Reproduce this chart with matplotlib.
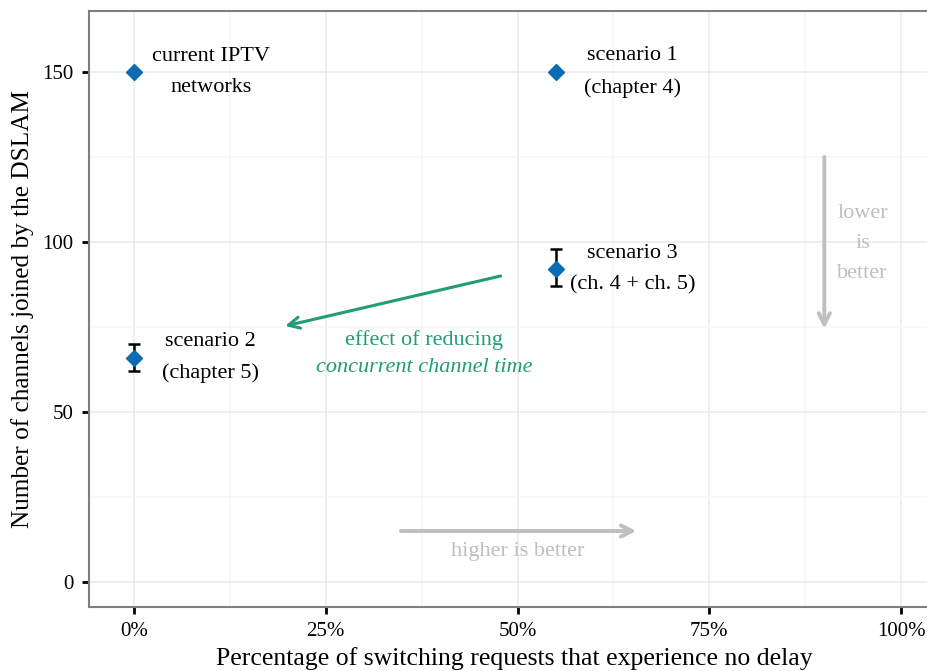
import matplotlib
matplotlib.use("Agg")
import matplotlib.pyplot as plt
from matplotlib.ticker import FixedLocator

plt.rcParams['font.family'] = ['Liberation Serif', 'DejaVu Serif']

# data
x_vals = [0.0, 0.55, 0.55, 0.0]
y_vals = [150, 150, 92, 66]
err_x = [0.55, 0.0]
err_y = [92, 66]
err_lo = [87, 62]
err_hi = [98, 70]

labels = ["current IPTV\nnetworks", "scenario 1\n(chapter 4)",
          "scenario 3\n(ch. 4 + ch. 5)", "scenario 2\n(chapter 5)"]
label_x = [0.10, 0.65, 0.65, 0.10]
label_y = [150, 150, 92, 66]

x_ticks = [0, 0.25, 0.5, 0.75, 1.0]
x_ticklabels = ["0%", "25%", "50%", "75%", "100%"]
y_ticks = [0, 50, 100, 150]

fig = plt.figure(figsize=(9.28, 6.71), dpi=100)
W, H = 928, 671
ax = fig.add_axes([89 / W, (H - 607) / H, (940 - 89) / W, (607 - 11) / H])

ax.set_xlim(-0.0587, (940 - 134) / 767)
ax.set_ylim(-7.35, 167.94)

ax.xaxis.set_major_locator(FixedLocator(x_ticks))
ax.xaxis.set_minor_locator(FixedLocator([0.125, 0.375, 0.625, 0.875]))
ax.yaxis.set_major_locator(FixedLocator(y_ticks))
ax.yaxis.set_minor_locator(FixedLocator([25, 75, 125]))
ax.set_xticklabels(x_ticklabels)

ax.grid(which='major', color='#ebebeb', linewidth=1.1, zorder=0)
ax.grid(which='minor', color='#f6f6f6', linewidth=1.1, zorder=0)
ax.set_axisbelow(True)

for s in ['top', 'left', 'bottom']:
    ax.spines[s].set_color('#7f7f7f')
    ax.spines[s].set_linewidth(1.5)
ax.spines['right'].set_visible(False)

ax.tick_params(which='major', length=5, width=2, color='black',
               labelsize=15, pad=6)
ax.tick_params(which='minor', length=0)

# error bars
ax.errorbar(err_x, err_y,
            yerr=[[e - l for e, l in zip(err_y, err_lo)],
                  [h - e for e, h in zip(err_y, err_hi)]],
            fmt='none', ecolor='black', elinewidth=1.8, capsize=4.5,
            capthick=1.8, zorder=3)
ax.plot(x_vals, y_vals, linestyle='none', marker='D', markersize=8,
        color='#0a6db3', zorder=4)

for t, lx, ly in zip(labels, label_x, label_y):
    ax.text(lx, ly, t, ha='center', va='center', fontsize=16,
            linespacing=1.85, color='black')

green = '#1f9d75'
ax.annotate("", xy=(0.197, 75.3), xytext=(0.478, 90),
            arrowprops=dict(arrowstyle='->,head_length=0.8,head_width=0.4',
                            color=green, lw=2.2, shrinkA=0, shrinkB=0))
ax.text(0.378, 71.2, "effect of reducing", ha='center', va='center',
        fontsize=16, color=green)
ax.text(0.378, 63.2, "concurrent channel time", ha='center', va='center',
        fontsize=16, color=green, style='italic')

gray = '#bfbfbf'
ax.annotate("", xy=(0.90, 74.5), xytext=(0.90, 125),
            arrowprops=dict(arrowstyle='->,head_length=0.8,head_width=0.4',
                            color=gray, lw=2.8, shrinkA=0, shrinkB=0))
ax.text(0.95, 99.5, "lower\nis\nbetter", ha='center', va='center',
        fontsize=16, color=gray, linespacing=1.8)
ax.annotate("", xy=(0.655, 15), xytext=(0.348, 15),
            arrowprops=dict(arrowstyle='->,head_length=0.8,head_width=0.4',
                            color=gray, lw=2.8, shrinkA=0, shrinkB=0))
ax.text(0.50, 9.0, "higher is better", ha='center', va='center',
        fontsize=16, color=gray)

ax.set_xlabel("Percentage of switching requests that experience no delay",
              fontsize=18.5, labelpad=4)
ax.set_ylabel("Number of channels joined by the DSLAM", fontsize=18.2,
              labelpad=6)

fig.savefig("out.png", dpi=100)
